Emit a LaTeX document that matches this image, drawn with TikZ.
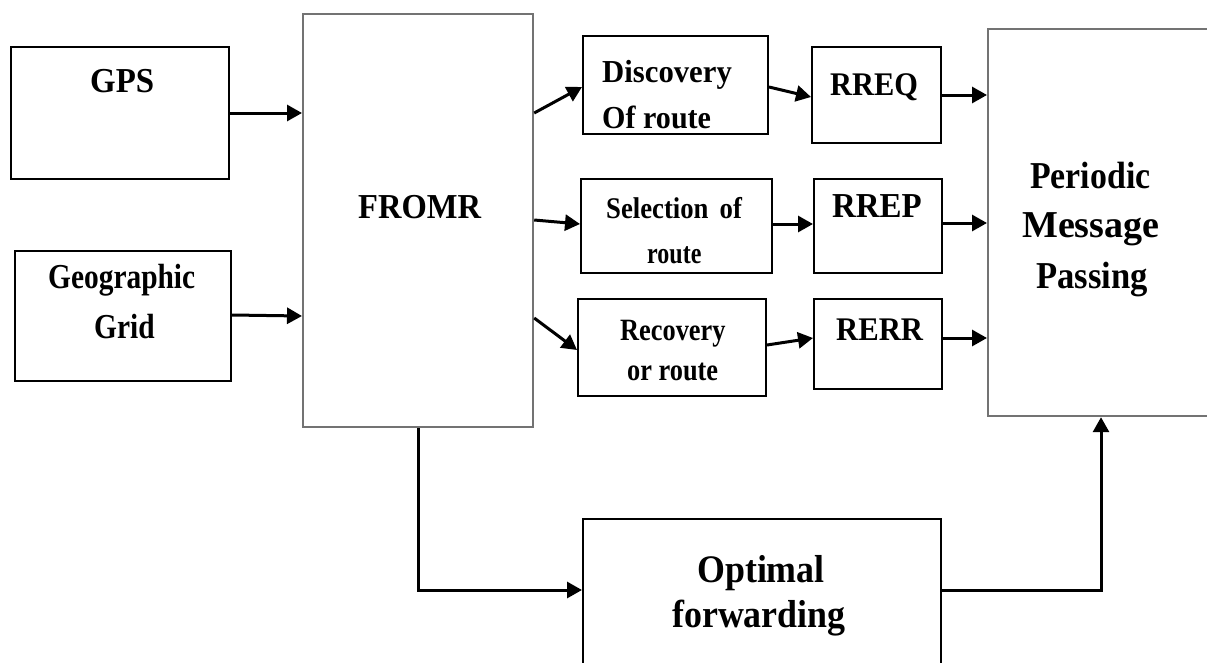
\documentclass[tikz,border=0pt]{standalone}
\usepackage{fontspec}
\setmainfont{Liberation Serif}
\usetikzlibrary{arrows.meta}
\newcommand\hs[2]{\scalebox{#1}[1]{#2}}
\begin{document}
\begin{tikzpicture}[x=1pt,y=-1pt,
  box/.style={draw=black,line width=2pt,inner sep=0pt,anchor=north west},
  gbox/.style={draw=black!55,line width=2.2pt,inner sep=0pt,anchor=north west},
  txt/.style={inner sep=0pt,anchor=base west},
  arr/.style={line width=3pt,-{Triangle[length=15pt,width=16pt]}}]
\useasboundingbox (0,0) rectangle (1207,662);
% boxes
\node[box,minimum width=218pt,minimum height=132pt] (gps) at (10,46) {};
\node[box,minimum width=216pt,minimum height=130pt] (geo) at (14,250) {};
\node[gbox,minimum width=230pt,minimum height=413pt] (fromr) at (302,13) {};
\node[box,minimum width=185pt,minimum height=98pt] (disc) at (582,35) {};
\node[box,minimum width=129pt,minimum height=96pt] (rreq) at (811,46) {};
\node[box,minimum width=191pt,minimum height=94pt] (sel) at (580,178) {};
\node[box,minimum width=128pt,minimum height=94pt] (rrep) at (813,178) {};
\node[box,minimum width=188pt,minimum height=97pt] (rec) at (577,298) {};
\node[box,minimum width=128pt,minimum height=90pt] (rerr) at (813,298) {};
\node[gbox,minimum width=240pt,minimum height=387pt] (per) at (987,28) {};
\node[box,minimum width=358pt,minimum height=160pt] (opt) at (582,518) {};
% texts
\node[txt,font=\bfseries\fontsize{35}{40}\selectfont] (tgps) at (90,92) {\hs{0.94}{GPS}};
\node[txt,font=\bfseries\fontsize{35}{40}\selectfont] (tgeo1) at (48,288) {\hs{0.84}{Geographic}};
\node[txt,font=\bfseries\fontsize{35}{40}\selectfont] (tgeo2) at (94,338) {\hs{0.84}{Grid}};
\node[txt,font=\bfseries\fontsize{35}{40}\selectfont] (tfromr) at (358,218) {\hs{0.93}{FROMR}};
\node[txt,font=\bfseries\fontsize{32}{38}\selectfont] (tdisc1) at (602,82) {\hs{0.96}{Discovery}};
\node[txt,font=\bfseries\fontsize{32}{38}\selectfont] (tdisc2) at (602,128) {\hs{0.94}{Of route}};
\node[txt,font=\bfseries\fontsize{33}{38}\selectfont] (trreq) at (830,95) {\hs{0.92}{RREQ}};
\node[txt,font=\bfseries\fontsize{30}{36}\selectfont] (tsel1) at (606,218) {\hs{0.89}{Selection\, of}};
\node[txt,font=\bfseries\fontsize{30}{36}\selectfont] (tsel2) at (647,263) {\hs{0.8}{route}};
\node[txt,font=\bfseries\fontsize{35}{40}\selectfont] (trrep) at (832,217) {\hs{0.94}{RREP}};
\node[txt,font=\bfseries\fontsize{31}{36}\selectfont] (trec1) at (620,340) {\hs{0.85}{Recovery}};
\node[txt,font=\bfseries\fontsize{31}{36}\selectfont] (trec2) at (627,380) {\hs{0.85}{or route}};
\node[txt,font=\bfseries\fontsize{33}{38}\selectfont] (trerr) at (836,340) {\hs{0.93}{RERR}};
\node[txt,font=\bfseries\fontsize{38}{44}\selectfont] (tper1) at (1030,188) {\hs{0.89}{Periodic}};
\node[txt,font=\bfseries\fontsize{38}{44}\selectfont] (tper2) at (1022,237) {\hs{1.0}{Message}};
\node[txt,font=\bfseries\fontsize{38}{44}\selectfont] (tper3) at (1036,288) {\hs{0.91}{Passing}};
\node[txt,font=\bfseries\fontsize{39}{44}\selectfont] (topt1) at (697,582) {\hs{0.92}{Optimal}};
\node[txt,font=\bfseries\fontsize{39}{44}\selectfont] (topt2) at (672,627) {\hs{0.92}{forwarding}};
% connectors
\draw[arr] (gps.east |- 0,113) -- (fromr.west |- 0,113);
\draw[arr] (geo.east |- 0,315) -- (fromr.west |- 0,316);
\draw[arr] (fromr.east |- 0,113) -- (disc.west |- 0,87);
\draw[arr] (fromr.east |- 0,220) -- (sel.west |- 0,224);
\draw[arr] (fromr.east |- 0,318) -- (rec.west |- 0,350);
\draw[arr] (disc.east |- 0,87) -- (rreq.west |- 0,97);
\draw[arr] (sel.east |- 0,224) -- (rrep.west |- 0,224);
\draw[arr] (rec.east |- 0,345) -- (rerr.west |- 0,338);
\draw[arr] (rreq.east |- 0,95) -- (per.west |- 0,95);
\draw[arr] (rrep.east |- 0,223) -- (per.west |- 0,223);
\draw[arr] (rerr.east |- 0,338) -- (per.west |- 0,338);
\draw[arr] (418,0 |- fromr.south) -- (418,590) -- (opt.west |- 0,590);
\draw[arr] (opt.east |- 0,590) -- (1101,590) -- (1101,0 |- per.south);
\end{tikzpicture}
\end{document}
